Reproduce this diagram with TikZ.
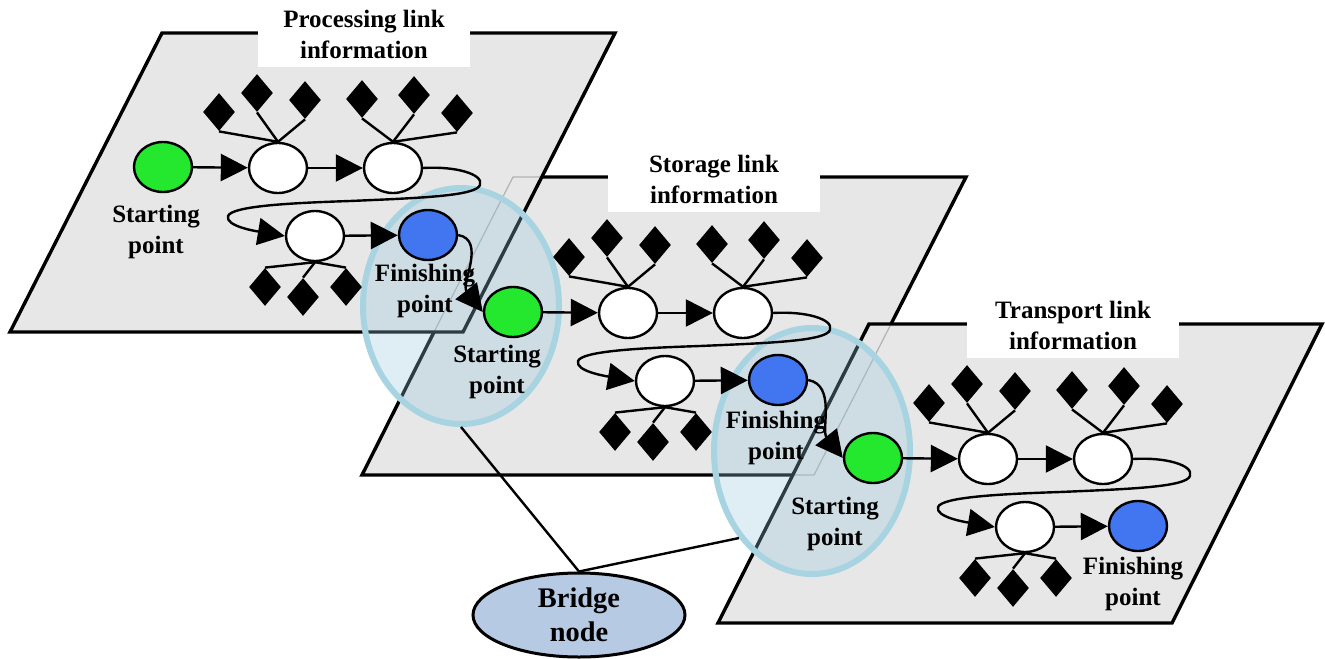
\documentclass[tikz,border=0pt]{standalone}
\usepackage{fontspec}
\setmainfont{Liberation Serif}
\usetikzlibrary{shapes.geometric,arrows.meta}

\definecolor{planegray}{RGB}{231,231,231}
\definecolor{startgreen}{RGB}{36,232,46}
\definecolor{endblue}{RGB}{66,118,240}
\definecolor{bridgeblue}{RGB}{182,202,228}
\definecolor{ringblue}{RGB}{168,212,226}
\definecolor{ringfill}{RGB}{150,200,220}

\tikzset{
  linknode/.style={ellipse, draw=black, line width=1.2pt, fill=white,
    minimum width=29pt, minimum height=25pt, inner sep=0pt},
  startnode/.style={linknode, fill=startgreen},
  endnode/.style={linknode, fill=endblue},
  dia/.style={diamond, fill=black, minimum width=16pt, minimum height=19pt, inner sep=0pt},
  flow/.style={line width=1.2pt, -{Triangle[length=13.5pt,width=13.5pt]}},
  twig/.style={line width=1.2pt},
  plane/.style={fill=planegray},
  rim/.style={line width=1.7pt, line join=miter},
  faint/.style={gray!60, line width=0.6pt},
  lbl/.style={font=\fontsize{12.5}{15.5}\selectfont\bfseries, align=center, inner sep=0pt},
  headbox/.style={lbl, fill=white, minimum width=106pt, minimum height=33pt},
  ring/.style={ellipse, draw=ringblue, line width=3pt, fill=ringfill, fill opacity=0.3, inner sep=0pt},
  bridge/.style={ellipse, draw=black, line width=1.5pt, fill=bridgeblue,
    minimum width=106pt, minimum height=42pt, inner sep=0pt,
    font=\fontsize{14.2}{17}\selectfont\bfseries, align=center}
}

\begin{document}
\begin{tikzpicture}[x=0.5pt,y=-0.5pt]
  \useasboundingbox (0,0) rectangle (1325,658);

  % the three planes
  \fill[plane] (162,33) -- (615,33) -- (463,332) -- (10,332) -- cycle;
  \fill[plane] (513,177) -- (966,177) -- (814,475) -- (362,475) -- cycle;
  \fill[plane] (869,324) -- (1322,324) -- (1172,623) -- (718,623) -- cycle;
  \draw[rim] (434,332) -- (362,475) -- (793,475);
  \draw[rim] (891,324) -- (966,177) -- (542,177);
  \draw[faint] (793,475) -- (814,475) -- (891,324);
  \draw[faint] (542,177) -- (513,177) -- (434,332);
  \draw[rim] (162,33) -- (615,33) -- (463,332) -- (10,332) -- cycle;
  \draw[rim] (869,324) -- (1322,324) -- (1172,623) -- (718,623) -- cycle;

  \node[headbox] (ptitle) at (364,34) {Processing link\\information};
  \node[headbox] (stitle) at (714,179) {Storage link\\information};
  \node[headbox] (ttitle) at (1073,325) {Transport link\\information};

  % bridge rings
  \node[ring, minimum width=98pt, minimum height=118pt] (ring1) at (461,306) {};
  \node[ring, minimum width=98pt, minimum height=123pt] (ring2) at (812,451) {};

  % processing layer
  \begin{scope}
    \node[startnode] (pstart) at (163,167) {};
    \node[linknode] (pa) at (278,168) {};
    \node[linknode] (pb) at (393,168) {};
    \node[linknode] (pc) at (315,236) {};
    \node[endnode] (pend) at (428,235) {};
    \node[dia] (pa1) at (219,112) {};
    \node[dia] (pa2) at (257,93) {};
    \node[dia] (pa3) at (305,100) {};
    \node[dia] (pb1) at (362,99) {};
    \node[dia] (pb2) at (414,95) {};
    \node[dia] (pb3) at (457,113) {};
    \node[dia] (pc1) at (265,287) {};
    \node[dia] (pc2) at (303,297) {};
    \node[dia] (pc3) at (346,287) {};
    \draw[twig] (pa.north) -- (pa1.south);
    \draw[twig] (pa.north) -- (pa2.south);
    \draw[twig] (pa.north) -- (pa3.south);
    \draw[twig] (pb.north) -- (pb1.south);
    \draw[twig] (pb.north) -- (pb2.south);
    \draw[twig] (pb.north) -- (pb3.south);
    \draw[twig] (pc.south) -- (pc1.north);
    \draw[twig] (pc.south) -- (pc2.north);
    \draw[twig] (pc.south) -- (pc3.north);
    \draw[flow] (pstart) -- (pa);
    \draw[flow] (pa) -- (pb);
    \draw[flow] (pc) -- (pend);
    \draw[flow] (pb.east) .. controls (455,166) and (484,174) .. (480,185)
      .. controls (476,196) and (420,198) .. (350,201)
      .. controls (290,203) and (232,206) .. (228,216)
      .. controls (225,226) and (255,231) .. (pc.west);
    \node[lbl] (pstartlbl) at (156,232) {Starting\\point};
    \node[lbl] (pendlbl) at (425,291) {Finishing\\point};
  \end{scope}

  % storage layer
  \begin{scope}[shift={(350,145)}]
    \node[startnode] (sstart) at (163,167) {};
    \node[linknode] (sa) at (278,168) {};
    \node[linknode] (sb) at (393,168) {};
    \node[linknode] (sc) at (315,236) {};
    \node[endnode] (send) at (428,235) {};
    \node[dia] (sa1) at (219,112) {};
    \node[dia] (sa2) at (257,93) {};
    \node[dia] (sa3) at (305,100) {};
    \node[dia] (sb1) at (362,99) {};
    \node[dia] (sb2) at (414,95) {};
    \node[dia] (sb3) at (457,113) {};
    \node[dia] (sc1) at (265,287) {};
    \node[dia] (sc2) at (303,297) {};
    \node[dia] (sc3) at (346,287) {};
    \draw[twig] (sa.north) -- (sa1.south);
    \draw[twig] (sa.north) -- (sa2.south);
    \draw[twig] (sa.north) -- (sa3.south);
    \draw[twig] (sb.north) -- (sb1.south);
    \draw[twig] (sb.north) -- (sb2.south);
    \draw[twig] (sb.north) -- (sb3.south);
    \draw[twig] (sc.south) -- (sc1.north);
    \draw[twig] (sc.south) -- (sc2.north);
    \draw[twig] (sc.south) -- (sc3.north);
    \draw[flow] (sstart) -- (sa);
    \draw[flow] (sa) -- (sb);
    \draw[flow] (sc) -- (send);
    \draw[flow] (sb.east) .. controls (455,166) and (484,174) .. (480,185)
      .. controls (476,196) and (420,198) .. (350,201)
      .. controls (290,203) and (232,206) .. (228,216)
      .. controls (225,226) and (255,231) .. (sc.west);
    \node[lbl] (sstartlbl) at (147,227) {Starting\\point};
    \node[lbl] (sendlbl) at (426,293) {Finishing\\point};
  \end{scope}

  % transport layer
  \begin{scope}[shift={(710,291)}]
    \node[startnode] (tstart) at (163,167) {};
    \node[linknode] (ta) at (278,168) {};
    \node[linknode] (tb) at (393,168) {};
    \node[linknode] (tc) at (315,236) {};
    \node[endnode] (tend) at (428,235) {};
    \node[dia] (ta1) at (219,112) {};
    \node[dia] (ta2) at (257,93) {};
    \node[dia] (ta3) at (305,100) {};
    \node[dia] (tb1) at (362,99) {};
    \node[dia] (tb2) at (414,95) {};
    \node[dia] (tb3) at (457,113) {};
    \node[dia] (tc1) at (265,287) {};
    \node[dia] (tc2) at (303,297) {};
    \node[dia] (tc3) at (346,287) {};
    \draw[twig] (ta.north) -- (ta1.south);
    \draw[twig] (ta.north) -- (ta2.south);
    \draw[twig] (ta.north) -- (ta3.south);
    \draw[twig] (tb.north) -- (tb1.south);
    \draw[twig] (tb.north) -- (tb2.south);
    \draw[twig] (tb.north) -- (tb3.south);
    \draw[twig] (tc.south) -- (tc1.north);
    \draw[twig] (tc.south) -- (tc2.north);
    \draw[twig] (tc.south) -- (tc3.north);
    \draw[flow] (tstart) -- (ta);
    \draw[flow] (ta) -- (tb);
    \draw[flow] (tc) -- (tend);
    \draw[flow] (tb.east) .. controls (455,166) and (484,174) .. (480,185)
      .. controls (476,196) and (420,198) .. (350,201)
      .. controls (290,203) and (232,206) .. (228,216)
      .. controls (225,226) and (255,231) .. (tc.west);
    \node[lbl] (tstartlbl) at (125,233) {Starting\\point};
    \node[lbl] (tendlbl) at (423,293) {Finishing\\point};
  \end{scope}

  % hand-over between layers
  \draw[flow] (pend.east) .. controls +(28,5) and +(-22,-28) .. (sstart.west);
  \draw[flow] (send.east) .. controls +(28,5) and +(-22,-28) .. (tstart.west);

  % bridge node
  \node[bridge] (bridge) at (579,615) {Bridge\\node};
  \draw[line width=1.2pt] (bridge.north) -- (ring1.south);
  \draw[line width=1.2pt] (bridge.north) -- (ring2.230);
\end{tikzpicture}
\end{document}
